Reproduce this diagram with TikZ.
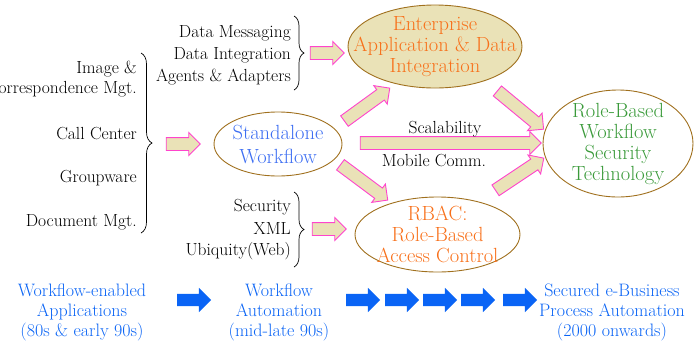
\documentclass[tikz,border=0pt]{standalone}
\usetikzlibrary{shapes.geometric,shapes.arrows,decorations.pathreplacing}
\definecolor{beige}{HTML}{EAE2B7}
\definecolor{pinkline}{HTML}{FF44CC}
\definecolor{brownline}{HTML}{A0701E}
\definecolor{orangetxt}{HTML}{F8701A}
\definecolor{greentxt}{HTML}{3A9A3A}
\definecolor{bluetxt}{HTML}{3D6EF2}
\definecolor{blueflow}{HTML}{0A64F5}

\begin{document}
\begin{tikzpicture}[x=1pt, y=-1pt,
	lbl/.style={font=\fontsize{17.5}{22}\selectfont, inner sep=0pt},
	bubble/.style={ellipse, draw=brownline, line width=0.9pt, inner sep=0pt},
	bubbletext/.style={align=center, font=\fontsize{20.5}{21}\selectfont},
	pinkarrow/.style={single arrow, draw=pinkline, fill=beige, line width=0.9pt, inner sep=6pt, single arrow head extend=5pt, minimum height=34pt},
	bluearrow/.style={single arrow, fill=blueflow, inner sep=6pt, single arrow head extend=6pt, minimum height=34pt},
	stage/.style={align=center, text=blueflow, font=\fontsize{18}{20}\selectfont},
	grp/.style={decorate, decoration={brace, amplitude=10pt}, line width=0.7pt}]
	\useasboundingbox (0,0) rectangle (694,341);
	
	\node[bubble, fill=beige, minimum width=174pt, minimum height=83pt] (eai) at (435,46.5) {};
	\node[bubbletext, text=orangetxt] (eaitxt) at (eai) {Enterprise\\Application \& Data\\Integration};
	\node[bubble, minimum width=128pt, minimum height=64pt] (sa) at (278,144) {};
	\node[bubbletext, text=bluetxt, font=\fontsize{20.5}{24}\selectfont] (satxt) at (sa) {Standalone\\Workflow};
	\node[bubble, minimum width=150pt, minimum height=107pt] (rbw) at (618,143.5) {};
	\node[bubbletext, text=greentxt] (rbwtxt) at (rbw) {Role-Based\\Workflow\\Security\\Technology};
	\node[bubble, minimum width=165pt, minimum height=75pt] (rbac) at (437.5,234.5) {};
	\node[bubbletext, text=orangetxt] (rbactxt) at (rbac) {RBAC:\\Role-Based\\Access Control};
	
	\foreach \y/\t [count=\i] in {69/{Image \&}, 89/{Correspondence Mgt.}, 134/{Call Center}, 178/{Groupware}, 222/{Document Mgt.}}
		{\node[lbl, anchor=east] (left\i) at (137,\y) {\t};}
	\foreach \y/\t [count=\i] in {33/{Data Messaging}, 55/{Data Integration}, 77/{Agents \& Adapters}}
		{\node[lbl, anchor=east] (top\i) at (291,\y) {\t};}
	\foreach \y/\t [count=\i] in {207/{Security}, 229/{XML}, 251/{Ubiquity(Web)}}
		{\node[lbl, anchor=east] (bot\i) at (291,\y) {\t};}
	\draw[grp, decoration={amplitude=11pt}] (141,53) -- (141,233);
	\draw[grp] (294,16) -- (294,90);
	\draw[grp] (294,192) -- (294,267);
	
	\node[pinkarrow] (in1) at (180,144) {};
	\node[pinkarrow] (in2) at (324,53) {};
	\node[pinkarrow] (in3) at (326,229) {};
	\node[pinkarrow, minimum height=56pt, rotate=36] (sa2eai) at (364.5,106.5) {};
	\node[pinkarrow, minimum height=60pt, rotate=-39.6] (eai2rbw) at (518,108) {};
	\node[pinkarrow, minimum height=59pt, rotate=-36.7] (sa2rbac) at (361.5,180.5) {};
	\node[pinkarrow, minimum height=58pt, rotate=33.7] (rbac2rbw) at (517,176) {};
	\node[pinkarrow, minimum height=181pt] (sa2rbw) at (447.5,143) {};
	\node[lbl] (scal) at (445,129) {Scalability};
	\node[lbl] (mob) at (434,161) {Mobile Comm.};
	
	\node[stage] (s1) at (82,312) {Workflow-enabled\\Applications\\(80s \& early 90s)};
	\node[stage] (s2) at (279,312) {Workflow\\Automation\\(mid-late 90s)};
	\node[stage] (s3) at (612,312) {Secured e-Business\\Process Automation\\(2000 onwards)};
	\foreach \x [count=\i] in {191,360,399,437,475,517}
		{\node[bluearrow] (b\i) at (\x,300) {};}
	
\end{tikzpicture}
\end{document}
